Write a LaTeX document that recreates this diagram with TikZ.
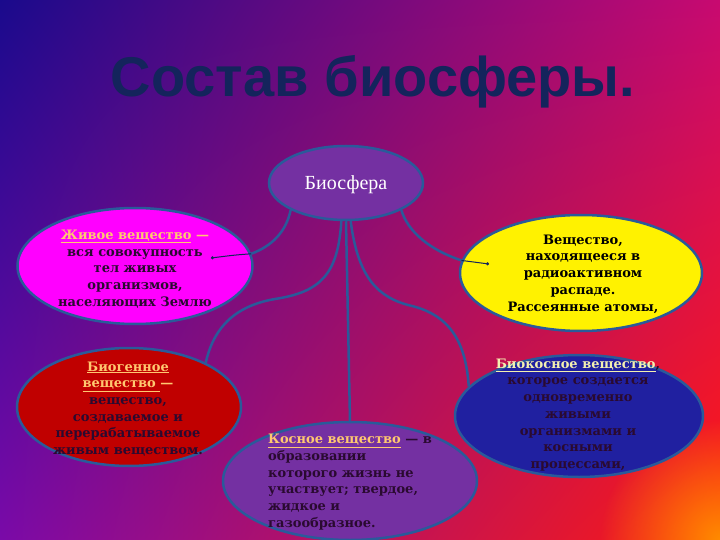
\documentclass[tikz,border=0pt]{standalone}
\usepackage{fontspec}
\setmainfont{DejaVu Serif}
\newfontfamily\headfont{Liberation Sans}
\newfontfamily\rootfont{Liberation Serif}
\usetikzlibrary{shapes.geometric,shadings,fadings,arrows.meta}
\definecolor{bgul}{HTML}{1A0A8C}
\definecolor{bgur}{HTML}{C80A70}
\definecolor{bgll}{HTML}{7A0AA8}
\definecolor{bglr}{HTML}{FF1A10}
\definecolor{cornerorange}{HTML}{FF8C00}
\definecolor{edgeblue}{HTML}{2A5A9A}
\definecolor{titleblue}{HTML}{14245C}
\definecolor{linkcol}{HTML}{FFC870}
\definecolor{palelink}{HTML}{F4F0B0}
\definecolor{darktext}{HTML}{2A0A30}
\definecolor{pinkfill}{HTML}{FF00FF}
\definecolor{purplefill}{HTML}{7430A2}
\definecolor{redfill}{HTML}{C00000}
\definecolor{bluefill}{HTML}{2020A0}
\tikzfading[name=cornerglow,inner color=transparent!0,outer color=transparent!100]

\begin{document}
\begin{tikzpicture}[x=1pt,y=-1pt,
    blob/.style={ellipse,draw=edgeblue,line width=2.5pt,inner sep=0pt},
    txt/.style={align=center,text=darktext,inner sep=0pt,font=\bfseries\fontsize{13}{16.7}\selectfont},
    link/.style={draw=edgeblue,line width=2.5pt},
    tail/.style={draw=titleblue,line width=1pt,-{Circle[length=3pt]}}]
  \useasboundingbox (0,0) rectangle (720,540);
  \shade[upper left=bgul,upper right=bgur,lower left=bgll,lower right=bglr] (0,0) rectangle (720,540);
  \fill[cornerorange,path fading=cornerglow] (720,540) circle (120);

  \node[font=\headfont\bfseries\fontsize{56}{60}\selectfont,text=titleblue] (title) at (373,82) {Состав биосферы.};

  \node[blob,fill=purplefill,minimum width=154pt,minimum height=74pt] (bio) at (346,183) {};
  \node[blob,fill=pinkfill,minimum width=235pt,minimum height=116pt] (zhiv) at (135,266) {};
  \node[blob,fill=yellow,minimum width=242pt,minimum height=116pt] (radio) at (581,273) {};
  \node[blob,fill=redfill,minimum width=224pt,minimum height=118pt] (biogen) at (129,407) {};
  \node[blob,fill=purplefill,minimum width=254pt,minimum height=118pt] (kosn) at (350,481) {};
  \node[blob,fill=bluefill,minimum width=248pt,minimum height=122pt] (biokosn) at (579,416) {};

  \coordinate (zhivpt) at (211,258);
  \coordinate (radiopt) at (489,264);

  \draw[link] (bio.south west) .. controls (286,232) and (272,246) .. (zhiv.6);
  \draw[link] (bio.south east) .. controls (408,232) and (430,250) .. (radio.174);
  \draw[link] (bio.263) .. controls (338,275) and (320,292) .. (275,299)
    .. controls (228,307) and (212,335) .. (biogen.30);
  \draw[link] (bio.south) -- (kosn.north);
  \draw[link] (bio.277) .. controls (358,278) and (378,298) .. (412,306)
    .. controls (452,316) and (466,345) .. (biokosn.165);
  \draw[tail] (zhiv.6) .. controls (235,255) .. (zhivpt);
  \draw[tail] (radio.174) -- (radiopt);

  \node[text=white,font=\rootfont\fontsize{20}{22}\selectfont] (biotxt) at (346,185) {Биосфера};
  \node[txt] (zhivtxt) at (135,269) {{\color{linkcol}\underline{Живое вещество} —}\\вся совокупность\\тел живых\\организмов,\\населяющих Землю};
  \node[txt,text=black] (radiotxt) at (583,274) {Вещество,\\находящееся в\\радиоактивном\\распаде.\\Рассеянные атомы,};
  \node[txt] (biogentxt) at (128,409) {{\color{linkcol}\underline{Биогенное}}\\{\color{linkcol}\underline{вещество\ }—}\\вещество,\\создаваемое и\\перерабатываемое\\живым веществом.};
  \node[txt,align=left,anchor=west] (kosntxt) at (268,482) {{\color{linkcol}\underline{Косное вещество}} — в\\образовании\\которого жизнь не\\участвует; твердое,\\жидкое и\\газообразное.};
  \node[txt] (biokosntxt) at (578,415) {{\color{palelink}\underline{Биокосное вещество}},\\которое создается\\одновременно\\живыми\\организмами и\\косными\\процессами,};
\end{tikzpicture}
\end{document}
